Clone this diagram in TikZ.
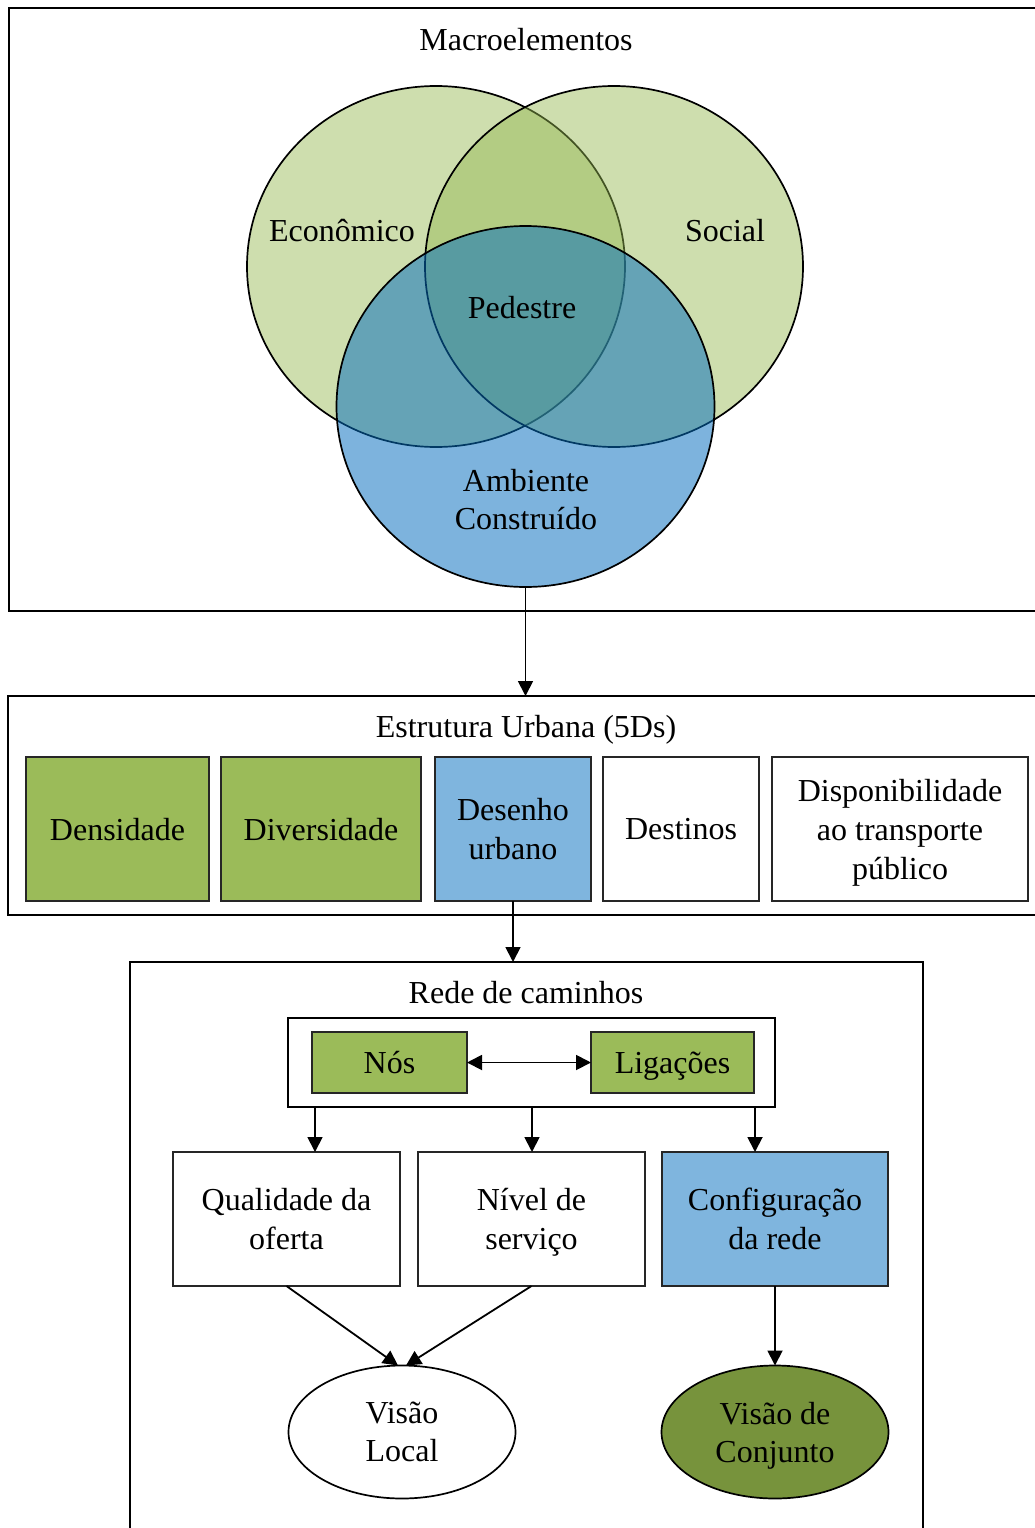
\documentclass[tikz,border=0pt]{standalone}
\usepackage{fontspec}
\setmainfont{Liberation Serif}
\usetikzlibrary{arrows.meta, positioning, shapes.geometric}
\definecolor{verde}{HTML}{9BBB59}
\definecolor{verdeesc}{HTML}{77933C}
\definecolor{azul}{HTML}{7FB5DE}
\definecolor{verdevenn}{RGB}{148,183,79}
\definecolor{azulvenn}{RGB}{5,110,190}
\tikzset{
  frame/.style={rectangle,draw,line width=1.8pt,anchor=north west,inner sep=0pt,outer sep=0pt},
  label/.style={font=\fontsize{32}{38}\selectfont},
  title/.style={label,text depth=-4pt},
  box/.style={rectangle,draw=black!85,line width=1.7pt,align=center,anchor=north west,
    inner sep=0pt,outer sep=0pt,text depth=-4pt,font=\fontsize{32}{39}\selectfont},
  oval/.style={ellipse,draw,line width=1.7pt,align=center,minimum width=227pt,minimum height=133pt,
    inner sep=0pt,outer sep=0pt,text depth=-4pt,font=\fontsize{32}{38}\selectfont},
  set/.style={ellipse,draw,line width=1.7pt,minimum width=378pt,minimum height=361pt,inner sep=0pt,outer sep=0pt},
  line/.style={-{Triangle[length=15pt,width=15pt]},line width=1.8pt}
}

\begin{document}
\begin{tikzpicture}[x=1pt,y=-1pt]
\useasboundingbox (0,0) rectangle (1035,1528);
% macroelementos
\node[frame,minimum width=1028pt,minimum height=603pt] (macro) at (9,8) {};
\node[title] (macrot) at (526,39) {Macroelementos};
\node[set,fill=verdevenn,fill opacity=.46] (econ) at (436,266.5) {};
\node[set,fill=verdevenn,fill opacity=.46] (soc) at (614,266.5) {};
\node[set,fill=azulvenn,fill opacity=.52] (amb) at (525.5,406.5) {};
\node[label] (econt) at (342,231) {Econômico};
\node[label] (soct) at (725,231) {Social};
\node[label] (pedt) at (522,308) {Pedestre};
\node[label,align=center] (ambt) at (526,500) {Ambiente\\Construído};

% estrutura urbana
\node[frame,minimum width=1029pt,minimum height=219pt] (estr) at (8,696) {};
\node[title] (estrt) at (526,726) {Estrutura Urbana (5Ds)};
\node[box,fill=verde,minimum width=183pt,minimum height=144pt] (dens) at (26,757) {Densidade};
\node[box,fill=verde,minimum width=200pt,minimum height=144pt] (div) at (221,757) {Diversidade};
\node[box,fill=azul,minimum width=156pt,minimum height=144pt] (des) at (435,757) {Desenho\\urbano};
\node[box,minimum width=156pt,minimum height=144pt] (dest) at (603,757) {Destinos};
\node[box,minimum width=256pt,minimum height=144pt] (disp) at (772,757) {Disponibilidade\\ao transporte\\público};

% rede de caminhos
\node[frame,minimum width=793pt,minimum height=600pt] (rede) at (130,962) {};
\node[title] (redet) at (526,992) {Rede de caminhos};
\node[frame,line width=1.7pt,minimum width=487pt,minimum height=89pt] (grupo) at (288,1018) {};
\node[box,fill=verde,minimum width=155pt,minimum height=61pt] (nos) at (312,1032) {Nós};
\node[box,fill=verde,minimum width=163pt,minimum height=61pt] (lig) at (591,1032) {Ligações};
\node[box,minimum width=227pt,minimum height=134pt] (qual) at (173,1152) {Qualidade da\\oferta};
\node[box,minimum width=227pt,minimum height=134pt] (niv) at (418,1152) {Nível de\\serviço};
\node[box,fill=azul,minimum width=226pt,minimum height=134pt] (conf) at (662,1152) {Configuração\\da rede};
\node[oval] (local) at (402,1432) {Visão\\Local};
\node[oval,fill=verdeesc] (conj) at (775,1432) {Visão de\\Conjunto};
\coordinate (g1) at (315,1107);
\coordinate (g2) at (532,1107);
\coordinate (g3) at (755,1107);

\draw[line] (amb.south) -- (amb.south |- estr.north);
\draw[line] (des.south) -- (des.south |- rede.north);
\draw[{Triangle[length=15pt,width=15pt]}-{Triangle[length=15pt,width=15pt]},line width=1.8pt] (nos) -- (lig);
\draw[line] (g1) -- (g1 |- qual.north);
\draw[line] (g2) -- (g2 |- niv.north);
\draw[line] (g3) -- (g3 |- conf.north);
\draw[line] (qual.south) -- ([xshift=-4pt]local.north);
\draw[line] (niv.south) -- ([xshift=4pt]local.north);
\draw[line] (conf.south) -- (conj.north);
\end{tikzpicture}
\end{document}
